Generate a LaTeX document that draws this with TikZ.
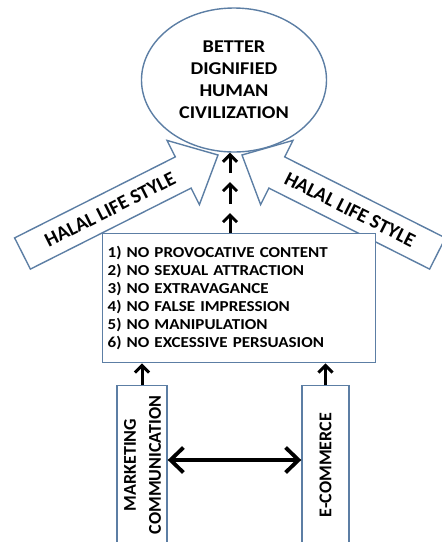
\documentclass[tikz,border=0pt]{standalone}
\usepackage{fontspec}
\setmainfont{Carlito}
\newfontfamily\widefont[FakeStretch=1.12]{Carlito}
\usetikzlibrary{arrows.meta,shapes.geometric}
\definecolor{outl}{RGB}{92,126,164}
\begin{document}
\begin{tikzpicture}[x=1pt,y=-1pt,
  outline/.style={draw=outl, line width=1.4pt},
  smallarr/.style={line width=3pt, -{Straight Barb[length=7pt,width=14pt]}},
  bigarr/.style={line width=3.8pt, {Straight Barb[length=13pt,width=25pt]}-{Straight Barb[length=13pt,width=25pt]}},
  blockarr/.style={outline, fill=white, line join=miter},
  goaltext/.style={font=\widefont\bfseries\fontsize{18}{22}\selectfont},
  ruletext/.style={font=\widefont\bfseries\fontsize{15.2}{18}\selectfont},
  arrtext/.style={font=\bfseries\fontsize{20}{22}\selectfont},
  boxtext/.style={font=\bfseries\fontsize{18}{25}\selectfont}
]
\useasboundingbox (0,0) rectangle (442,542);
% goal ellipse
\node[ellipse, outline, minimum width=185pt, minimum height=144pt, inner sep=0pt,
  align=center, goaltext] (goal) at (234,80) {BETTER\\DIGNIFIED\\HUMAN\\CIVILIZATION};
% block arrows
\draw[blockarr] (14.6,237.9) -- (175.3,156.9) -- (167.0,140.4) -- (218,155)
  -- (199.4,204.6) -- (191.1,188.1) -- (30.4,269.1) -- cycle;
\draw[blockarr] (445.4,237.9) -- (284.7,156.9) -- (293.0,140.4) -- (242,155)
  -- (260.6,204.6) -- (268.9,188.1) -- (429.6,269.1) -- cycle;
\node[arrtext, rotate=26.7] (hls1) at (110,209.4) {HALAL LIFE STYLE};
\node[arrtext, rotate=-26.7] (hls2) at (350,209.4) {HALAL LIFE STYLE};
% rules box
\node[outline, fill=white, anchor=north west, minimum width=273pt, minimum height=129pt,
  text width=263pt, inner xsep=5pt, align=left, ruletext] (rules) at (102,233)
  {1) NO PROVOCATIVE CONTENT\\2) NO SEXUAL ATTRACTION\\3) NO EXTRAVAGANCE\\4) NO FALSE IMPRESSION\\5) NO MANIPULATION\\6) NO EXCESSIVE PERSUASION};
% chain of small arrows
\coordinate (c1) at (230,204);
\coordinate (c2) at (230,182);
\coordinate (c3) at (230,173);
\coordinate (c4) at (230,213);
\draw[smallarr] (rules.north -| c1) -- (c4);
\draw[smallarr] (c1) -- (c2);
\draw[smallarr] (c3) -- (c3 |- goal.south);
% bottom boxes
\node[outline, anchor=north, minimum width=50pt, minimum height=165pt] (mc) at (142,385) {};
\node[outline, anchor=north, minimum width=47pt, minimum height=165pt] (ec) at (325.5,385) {};
\node[boxtext, rotate=90, align=center] (mct) at (142.5,465) {MARKETING\\COMMUNICATION};
\node[boxtext, rotate=90] (ect) at (325.5,465) {E-COMMERCE};
\draw[smallarr] (mc.north) -- (mc.north |- rules.south);
\draw[smallarr] (ec.north) -- (ec.north |- rules.south);
\draw[bigarr] (mc.east |- 0,460) -- (ec.west |- 0,460);
\end{tikzpicture}
\end{document}
